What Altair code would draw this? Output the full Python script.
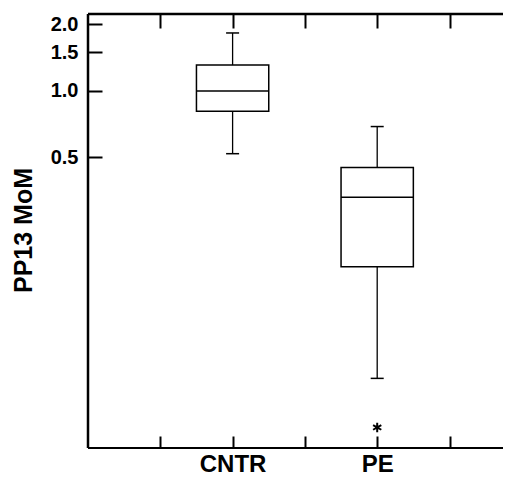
import altair as alt
import pandas as pd

# ---- data ----
groups = ["CNTR", "PE"]
positions = [2, 4]
whisker_low = [0.52, 0.050]
q1 = [0.81, 0.16]
median = [1.0, 0.33]
q3 = [1.31, 0.45]
whisker_high = [1.83, 0.69]

outlier_groups = ["PE"]
outlier_positions = [4]
outlier_values = [0.030]

y_ticks = [0.5, 1.0, 1.5, 2.0]
x_ticks = [1, 2, 3, 4, 5]

W, H = 415, 434
X_DOMAIN = [0, W / 72.3]
Y_DOMAIN = [0.0242, 2.23]
FONT = "Liberation Sans"

box = pd.DataFrame({
    "group": groups, "pos": positions, "wlo": whisker_low, "q1": q1,
    "med": median, "q3": q3, "whi": whisker_high,
})
box["lo"] = box["pos"] - 0.5
box["hi"] = box["pos"] + 0.5
box["clo"] = box["pos"] - 0.09
box["chi"] = box["pos"] + 0.09

out = pd.DataFrame({"group": outlier_groups, "pos": outlier_positions, "v": outlier_values})

xs = alt.Scale(domain=X_DOMAIN, nice=False, zero=False)
ys = alt.Scale(type="log", domain=Y_DOMAIN, nice=False)

label_expr = "datum.value == 2 ? 'CNTR' : datum.value == 4 ? 'PE' : ''"

bottom_axis = alt.Axis(values=x_ticks, labelExpr=label_expr, orient="bottom", offset=-12,
                       tickSize=12, tickWidth=2, tickColor="black", domain=False, grid=False,
                       labelFont=FONT, labelFontSize=24, labelFontWeight="bold",
                       labelColor="black", labelPadding=23, labelBaseline="alphabetic",
                       title=None)
top_axis = alt.Axis(values=x_ticks, orient="top", offset=-14, tickSize=14, tickWidth=2,
                    tickColor="black", domain=False, grid=False, labels=False, title=None)
left_axis = alt.Axis(values=y_ticks, format=".1f", orient="left", offset=-14, tickSize=14,
                     tickWidth=2, tickColor="black", domain=False, grid=False,
                     labelFont=FONT, labelFontSize=20, labelFontWeight="bold",
                     labelColor="black", labelPadding=10,
                     title="PP13 MoM", titleFont=FONT, titleFontSize=25, titleFontWeight="bold",
                     titleColor="black", titleAngle=-90, titleX=-79, titleY=216,
                     titleAlign="center", titleBaseline="middle")
right_axis = alt.Axis(values=y_ticks, orient="right", ticks=False, domain=False, grid=False,
                      labels=False, title=None)

base = alt.Chart(box)

boxes = base.mark_rect(fill="white", stroke="black", strokeWidth=1.5).encode(
    x=alt.X("lo:Q", scale=xs, axis=bottom_axis),
    x2="hi:Q",
    y=alt.Y("q1:Q", scale=ys, axis=left_axis),
    y2="q3:Q",
)
medians = base.mark_rule(color="black", strokeWidth=1.5).encode(
    x=alt.X("lo:Q", scale=xs, axis=top_axis),
    x2="hi:Q",
    y=alt.Y("med:Q", scale=ys, axis=right_axis),
)
upper = base.mark_rule(color="black", strokeWidth=1.3).encode(
    x=alt.X("pos:Q", scale=xs, axis=None),
    y=alt.Y("q3:Q", scale=ys, axis=None),
    y2="whi:Q",
)
lower = base.mark_rule(color="black", strokeWidth=1.3).encode(
    x=alt.X("pos:Q", scale=xs, axis=None),
    y=alt.Y("q1:Q", scale=ys, axis=None),
    y2="wlo:Q",
)
cap_hi = base.mark_rule(color="black", strokeWidth=1.5).encode(
    x=alt.X("clo:Q", scale=xs, axis=None), x2="chi:Q",
    y=alt.Y("whi:Q", scale=ys, axis=None),
)
cap_lo = base.mark_rule(color="black", strokeWidth=1.5).encode(
    x=alt.X("clo:Q", scale=xs, axis=None), x2="chi:Q",
    y=alt.Y("wlo:Q", scale=ys, axis=None),
)
star = alt.Chart(out).mark_point(
    shape="M0,-1L0,1M-0.866,-0.5L0.866,0.5M-0.866,0.5L0.866,-0.5",
    size=90, filled=False, stroke="black", strokeWidth=2, opacity=1,
).encode(
    x=alt.X("pos:Q", scale=xs, axis=None),
    y=alt.Y("v:Q", scale=ys, axis=None),
)

frame_df = pd.DataFrame({"k": [0]})
frame_left = alt.Chart(frame_df).mark_rule(color="black", strokeWidth=2.5).encode(
    x=alt.value(0), y=alt.value(0), y2=alt.value(H))
frame_top = alt.Chart(frame_df).mark_rule(color="black", strokeWidth=2.5).encode(
    x=alt.value(0), x2=alt.value(W), y=alt.value(0))
frame_bottom = alt.Chart(frame_df).mark_rule(color="black", strokeWidth=2.2).encode(
    x=alt.value(0), x2=alt.value(W), y=alt.value(H))

chart = alt.layer(
    boxes, medians, upper, lower, cap_hi, cap_lo, star, frame_left, frame_top, frame_bottom
).properties(
    width=W, height=H,
    autosize=alt.AutoSizeParams(type="none"),
    padding={"left": 80, "top": 6, "right": 0, "bottom": 28},
    background="white",
).configure_view(stroke=None)

chart.save("out.html", embed_options={"renderer": "svg", "actions": False})
